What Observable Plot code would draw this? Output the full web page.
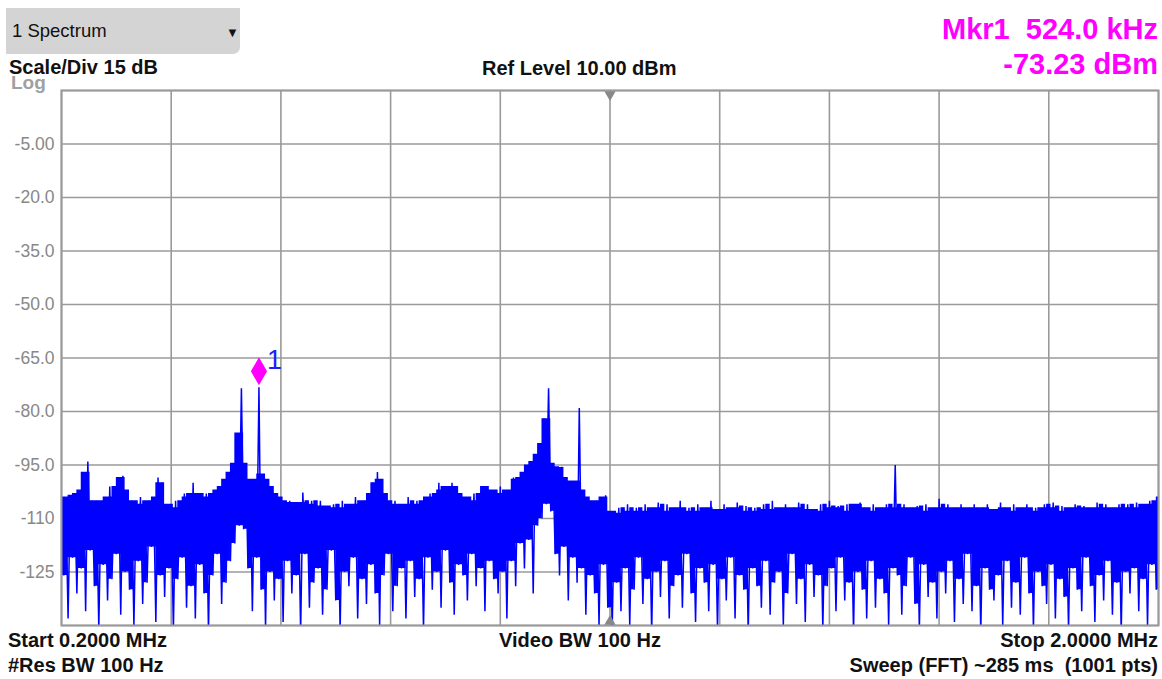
<!DOCTYPE html>
<html>
<head>
<meta charset="utf-8">
<script src="https://cdn.jsdelivr.net/npm/d3@7"></script>
<script src="https://cdn.jsdelivr.net/npm/@observablehq/plot@0.6"></script>
<style>
  html, body { margin: 0; padding: 0; background: #fff; }
  #wrap { position: relative; width: 1162px; height: 679px; font-family: "Liberation Sans", Arial, sans-serif; }
  #wrap svg { position: absolute; left: 0; top: 0; }
  .t { position: absolute; line-height: 1; white-space: pre; color: #111; }
  .b { font-weight: bold; font-size: 20px; }
  .mk { font-weight: bold; font-size: 29px; color: #ff00ff; right: 4px; }
</style>
</head>
<body>
<div id="wrap">
  <div style="position:absolute;left:6px;top:8px;width:234px;height:46px;background:#d4d4d4;border-radius:0 0 7px 0;"></div>
  <div class="t" style="left:12px;top:22px;font-size:18.5px;">1 Spectrum</div>
  <div class="t" style="left:226px;top:26px;font-size:13px;">▼</div>
  <div class="t b" style="left:9px;top:58.5px;line-height:0.8;">Scale/Div 15 dB</div>
  <div class="t" style="left:11px;top:74.5px;font-size:19px;line-height:0.8;font-weight:bold;color:#a0a0a0;">Log</div>
  <div class="t b" style="left:482px;top:58px;">Ref Level 10.00 dBm</div>
  <div class="t mk" style="top:14.5px;">Mkr1  524.0 kHz</div>
  <div class="t mk" style="top:49.5px;">-73.23 dBm</div>
  <div class="t b" style="left:8px;top:630px;">Start 0.2000 MHz</div>
  <div class="t b" style="left:8px;top:655px;">#Res BW 100 Hz</div>
  <div class="t b" style="left:499px;top:630px;">Video BW 100 Hz</div>
  <div class="t b" style="right:4px;top:630px;">Stop 2.0000 MHz</div>
  <div class="t b" style="right:4px;top:655px;">Sweep (FFT) ~285 ms  (1001 pts)</div>
</div>
<script>
// Frequency span (MHz) and level range (dBm)
const freqStart = 0.2;
const freqStop = 2.0;
const refLevel = 10;
const bottomLevel = -140;

// Grid positions
const xGrid = [0.2, 0.38, 0.56, 0.74, 0.92, 1.1, 1.28, 1.46, 1.64, 1.82, 2.0];
const yGrid = [10, -5, -20, -35, -50, -65, -80, -95, -110, -125, -140];
const yTicks = [-5, -20, -35, -50, -65, -80, -95, -110, -125];
const yTickLabels = ["-5.00", "-20.0", "-35.0", "-50.0", "-65.0", "-80.0", "-95.0", "-110", "-125"];

// Trace: upper (peak) samples and lower (floor) samples, alternating along the sweep
const hi = [
  -104, -106, -103.5, -103, -102, -97, -94, -105, -105, -106,
  -104, -101, -106, -98.5, -98, -102, -105, -106, -104, -106,
  -105, -104, -98.5, -100, -106, -108, -105, -107, -103, -104,
  -100, -103, -104, -103, -104, -102, -101, -99, -97, -94.5,
  -86, -73.5, -94.5, -99, -99.5, -73.23, -97.5, -99, -101, -103,
  -104, -105.5, -105, -106, -105.5, -102.7, -106, -105, -107, -105,
  -106.5, -107, -106, -108, -105, -107, -106, -104, -107, -105,
  -103, -100, -97, -99, -103, -106, -105, -107, -106, -104,
  -106, -105, -107, -104, -103, -105, -100, -102, -101, -100,
  -101, -103, -104, -106, -103, -105, -101, -101, -102, -103,
  -101, -103, -102, -98.5, -99, -97, -95, -94, -92, -89,
  -82, -73.5, -94.5, -95.7, -95.5, -98.5, -100, -99.5, -79, -102,
  -104, -106, -105, -104, -103.5, -108, -108.5, -107, -109, -106,
  -108, -107, -109, -106, -108, -107, -105.5, -108, -106, -109,
  -107, -105, -108, -107, -109.5, -106, -108, -107, -105, -108,
  -107.5, -106, -109, -107, -105.5, -108, -106.5, -108, -107, -109,
  -106, -107.5, -105, -108, -107, -106, -109, -107, -105.5, -108,
  -106, -107.5, -109, -106, -108, -105, -107, -106.5, -108, -106,
  -110, -106, -105.5, -107, -108, -106, -109, -107, -106, -107.5,
  -95, -107, -106, -108, -107, -106.5, -108, -106, -109, -107,
  -104.5, -107, -106, -108, -107, -106, -108.5, -107, -106, -108,
  -107, -106, -108, -107.5, -105.5, -107, -108, -106, -109, -107,
  -106, -108, -107, -110, -106, -107, -105.5, -108, -106.5, -109,
  -107, -106, -108, -106.5, -107, -108, -105.5, -107, -106, -108,
  -107, -106, -108, -106, -107, -105.5, -107, -106, -105, -106,
  -104
];
const lo = [
  -126, -138, -121, -131, -124, -136, -119, -129, -141, -123, -133, -127, -120, -137, -125, -130, -140, -122, -134, -128, -118, -139, -126, -132, -124,
  -141, -127, -121, -135, -129, -138, -123, -131, -142, -126, -120, -134, -128, -122, -117, -112, -113, -124, -136, -121, -130, -141, -125, -133, -127,
  -139, -122, -131, -126, -142, -120, -135, -128, -124, -137, -130, -119, -133, -141, -125, -129, -121, -138, -127, -134, -123, -131, -140, -126, -120,
  -136, -129, -124, -138, -122, -132, -127, -141, -121, -130, -125, -135, -119, -128, -137, -123, -126, -133, -120, -129, -124, -136, -122, -127, -131,
  -125, -138, -122, -129, -117, -124, -116, -131, -112, -110, -106, -108, -120, -126, -118, -133, -121, -128, -124, -137, -126, -131, -140, -123, -135,
  -141, -128, -136, -124, -140, -130, -121, -134, -127, -142, -125, -132, -122, -138, -129, -126, -135, -120, -131, -139, -124, -128, -136, -123, -141,
  -127, -133, -121, -138, -126, -130, -142, -124, -129, -135, -122, -137, -128, -125, -140, -131, -120, -134, -127, -139, -123, -132, -126, -141, -129,
  -124, -136, -121, -133, -128, -142, -125, -130, -138, -122, -135, -127, -131, -140, -124, -126, -137, -129, -121, -134, -141, -123, -132, -128, -138,
  -125, -131, -122, -139, -127, -134, -120, -136, -129, -142, -124, -130, -133, -126, -140, -122, -135, -128, -137, -121, -131, -141, -125, -129, -134,
  -123, -138, -127, -132, -141, -124, -130, -136, -121, -129, -139, -126, -133, -122, -137, -128, -142, -125, -131, -124, -136, -127, -140, -123, -130
];

// Marker 1
const markerFreq = 0.524;
const markerLevel = -73.23;
const markerLabel = "1";

// Build tables: the sweep (alternating samples) and its dense core per display bin
const nPts = hi.length + lo.length;
const step = (freqStop - freqStart) / (nPts - 1);
const trace = [];
for (let i = 0; i < hi.length; i++) {
  trace.push({f: freqStart + (2 * i) * step, v: hi[i]});
  if (i < lo.length) trace.push({f: freqStart + (2 * i + 1) * step, v: lo[i]});
}
const bins = hi.map((h, i) => {
  const nb = [hi[Math.max(0, i - 1)], h, hi[Math.min(hi.length - 1, i + 1)]].sort((a, b) => a - b);
  const l1 = lo[Math.max(0, i - 1)], l2 = lo[Math.min(lo.length - 1, i)];
  return {f: freqStart + 2 * i * step, top: nb[1], bottom: Math.max(l1, l2)};
});
const marker = [{f: markerFreq, v: markerLevel, label: markerLabel}];
const centerFreq = (freqStart + freqStop) / 2;

const chart = Plot.plot({
  width: 1162,
  height: 679,
  marginLeft: 61,
  marginRight: 4,
  marginTop: 90,
  marginBottom: 54,
  style: {fontFamily: "'Liberation Sans', Arial, sans-serif", background: "transparent", overflow: "visible"},
  x: {domain: [freqStart, freqStop], axis: null},
  y: {domain: [bottomLevel, refLevel], axis: null},
  marks: [
    Plot.gridX(xGrid, {stroke: "#9a9a9a", strokeOpacity: 1, strokeWidth: 1.6}),
    Plot.gridY(yGrid, {stroke: "#9a9a9a", strokeOpacity: 1, strokeWidth: 1.6}),
    Plot.areaY(bins, {x: "f", y1: "bottom", y2: "top", curve: "step", fill: "#0000ff", clip: true}),
    Plot.line(trace, {x: "f", y: "v", stroke: "#0000ff", strokeWidth: 1.5, strokeLinejoin: "miter", strokeMiterlimit: 1, clip: true}),
    Plot.frame({stroke: "#9a9a9a", strokeWidth: 2}),
    Plot.axisY(yTicks, {
      ticks: yTicks,
      tickSize: 0,
      tickPadding: 7,
      tickFormat: d => yTickLabels[yTicks.indexOf(d)],
      fontSize: 17.5,
      fill: "#888",
      label: null
    }),
    Plot.dot([{f: centerFreq, v: refLevel}], {x: "f", y: "v", symbol: "triangle", r: 4.2, fill: "#888", stroke: null, rotate: 180, dy: 4}),
    Plot.dot([{f: centerFreq, v: bottomLevel}], {x: "f", y: "v", symbol: "triangle", r: 4.2, fill: "#888", stroke: null, dy: -4}),
    Plot.dot(marker, {x: "f", y: "v", symbol: "diamond", r: 8.5, fill: "#ff00ff", stroke: null, dy: -16}),
    Plot.text(marker, {x: "f", y: "v", text: "label", fill: "#2020ff", fontSize: 27, textAnchor: "start", dx: 8, dy: -27})
  ]
});
document.getElementById("wrap").prepend(chart);
</script>
</body>
</html>
